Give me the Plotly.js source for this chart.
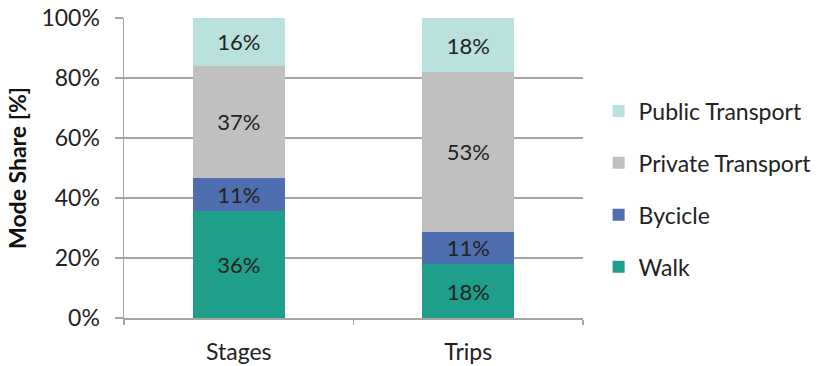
<!DOCTYPE html>
<html>
<head>
<meta charset="utf-8">
<script src="https://cdn.plot.ly/plotly-3.0.1.min.js"></script>
<style>html,body{margin:0;padding:0;background:#fff}#chart{width:819px;height:366px}</style>
</head>
<body>
<div id="chart"></div>
<script>
const categories = ["Stages", "Trips"];
const seriesNames = ["Walk", "Bycicle", "Private Transport", "Public Transport"];
const walk = [35.6, 18.0];
const bycicle = [11.1, 10.7];
const privateTransport = [37.4, 53.3];
const publicTransport = [15.9, 18.0];
const yTickVals = [0, 20, 40, 60, 80, 100];
const yTickText = ["0%", "20%", "40%", "60%", "80%", "100%"];

const colors = ["#1f9e89", "#4f6eb0", "#c0c0c0", "#b9e1dd"];
const seriesValues = [walk, bycicle, privateTransport, publicTransport];
const FONT = "Lato, 'Open Sans', sans-serif";

const traces = seriesValues.map((vals, i) => ({
  type: "bar",
  name: seriesNames[i],
  x: categories,
  y: vals,
  legendgroup: "g" + i,
  legendrank: 4 - i,
  marker: {color: colors[i], line: {width: 0}},
  text: vals.map(v => Math.round(v) + "%"),
  texttemplate: "%{text}",
  textposition: "inside",
  insidetextanchor: "middle",
  constraintext: "none",
  textfont: {family: FONT, size: 22, color: "#222"},
  hoverinfo: "skip"
}));

const layout = {
  width: 819, height: 366,
  margin: {l: 124, r: 236, t: 18, b: 48, autoexpand: false},
  paper_bgcolor: "#fff", plot_bgcolor: "#fff",
  barmode: "stack",
  bargap: 0.6,
  font: {family: FONT, size: 23, color: "#222"},
  xaxis: {
    type: "category",
    showline: true, linecolor: "#a6a6a6", linewidth: 1.5,
    ticks: "outside", tickson: "boundaries", ticklen: 5, tickcolor: "#a6a6a6", tickwidth: 1.5,
    ticklabelstandoff: 13,
    tickfont: {family: FONT, size: 23, color: "#222"},
    showgrid: false, zeroline: false
  },
  yaxis: {
    range: [0, 100],
    tickvals: yTickVals, ticktext: yTickText,
    showline: true, linecolor: "#a6a6a6", linewidth: 1.5,
    ticks: "outside", ticklen: 8, tickcolor: "#a6a6a6", tickwidth: 1.5,
    ticklabelstandoff: 10,
    showgrid: true, gridcolor: "#a6a6a6", gridwidth: 1.5,
    zeroline: false,
    tickfont: {family: FONT, size: 23, color: "#222"},
    title: {text: "<b>Mode Share [%]</b>", font: {family: FONT, size: 23, color: "#111"}, standoff: 8}
  },
  showlegend: true,
  legend: {
    x: 1.034, y: 0.43, xanchor: "left", yanchor: "middle",
    traceorder: "grouped",
    tracegroupgap: 19,
    font: {family: FONT, size: 23, color: "#222"},
    itemwidth: 30
  }
};

Plotly.newPlot("chart", traces, layout, {displayModeBar: false, staticPlot: true});
</script>
</body>
</html>
